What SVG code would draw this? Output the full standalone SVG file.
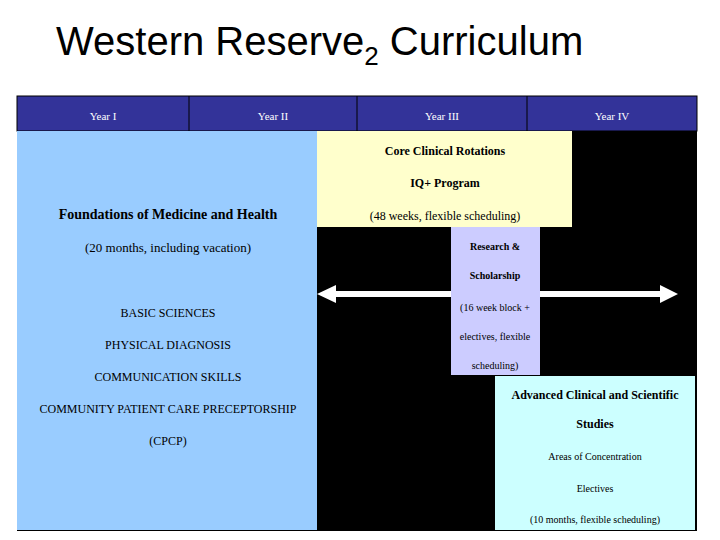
<svg xmlns="http://www.w3.org/2000/svg" width="720" height="540" viewBox="0 0 720 540">
<style>
.s{font-family:"Liberation Serif",serif;fill:#000}
.h{font-family:"Liberation Serif",serif;fill:#fff;font-size:11px;text-anchor:middle}
.b{font-weight:bold}
</style>
<rect width="720" height="540" fill="#fff"/>
<text x="56" y="55" font-family="Liberation Sans,Arial,sans-serif" font-size="40" fill="#000">Western Reserve<tspan font-size="26" dy="10">2</tspan><tspan dy="-10"> Curriculum</tspan></text>
<rect x="17" y="96" width="680" height="435" fill="#000"/>
<g id="header">
<rect x="17" y="96" width="680" height="35" fill="#333399" stroke="#000"/>
<line x1="189" y1="96" x2="189" y2="131" stroke="#000"/>
<line x1="357" y1="96" x2="357" y2="131" stroke="#000"/>
<line x1="527" y1="96" x2="527" y2="131" stroke="#000"/>
<text class="h" x="103" y="120">Year I</text>
<text class="h" x="273" y="120">Year II</text>
<text class="h" x="442" y="120">Year III</text>
<text class="h" x="612" y="120">Year IV</text>
</g>
<g id="foundations">
<rect x="17" y="131" width="300" height="399" fill="#99ccff"/>
<text class="s b" x="168" y="219" font-size="14" text-anchor="middle">Foundations of Medicine and Health</text>
<text class="s" x="168" y="252" font-size="13" text-anchor="middle">(20 months, including vacation)</text>
<text class="s" x="168" y="317" font-size="12" text-anchor="middle">BASIC SCIENCES</text>
<text class="s" x="168" y="349" font-size="12" text-anchor="middle">PHYSICAL DIAGNOSIS</text>
<text class="s" x="168" y="381" font-size="12" text-anchor="middle">COMMUNICATION SKILLS</text>
<text class="s" x="168" y="413" font-size="12" text-anchor="middle">COMMUNITY PATIENT CARE PRECEPTORSHIP</text>
<text class="s" x="168" y="445" font-size="12" text-anchor="middle">(CPCP)</text>
</g>
<g id="core">
<rect x="317" y="131" width="255" height="96" fill="#ffffcc"/>
<text class="s b" x="445" y="155" font-size="12" text-anchor="middle">Core Clinical Rotations</text>
<text class="s b" x="445" y="187" font-size="12" text-anchor="middle">IQ+ Program</text>
<text class="s" x="445" y="220" font-size="12" text-anchor="middle">(48 weeks, flexible scheduling)</text>
</g>
<g id="connectors">
<polygon points="317,294 336,285 336,291 660,291 660,285 678,294 660,303 660,297 336,297 336,303" fill="#fff"/>
</g>
<g id="research">
<rect x="451" y="227" width="89" height="148" fill="#ccccff"/>
<text class="s b" x="495" y="250" font-size="10" text-anchor="middle">Research &amp;</text>
<text class="s b" x="495" y="279" font-size="10" text-anchor="middle">Scholarship</text>
<text class="s" x="495" y="311" font-size="10" text-anchor="middle">(16 week block +</text>
<text class="s" x="495" y="340" font-size="10" text-anchor="middle">electives, flexible</text>
<text class="s" x="495" y="369" font-size="10" text-anchor="middle">scheduling)</text>
</g>
<g id="advanced">
<rect x="495" y="376" width="200" height="154" fill="#ccffff"/>
<text class="s b" x="595" y="399" font-size="12" text-anchor="middle">Advanced Clinical and Scientific</text>
<text class="s b" x="595" y="428" font-size="12" text-anchor="middle">Studies</text>
<text class="s" x="595" y="460" font-size="10" text-anchor="middle">Areas of Concentration</text>
<text class="s" x="595" y="492" font-size="10" text-anchor="middle">Electives</text>
<text class="s" x="595" y="523" font-size="10" text-anchor="middle">(10 months, flexible scheduling)</text>
</g>
</svg>
